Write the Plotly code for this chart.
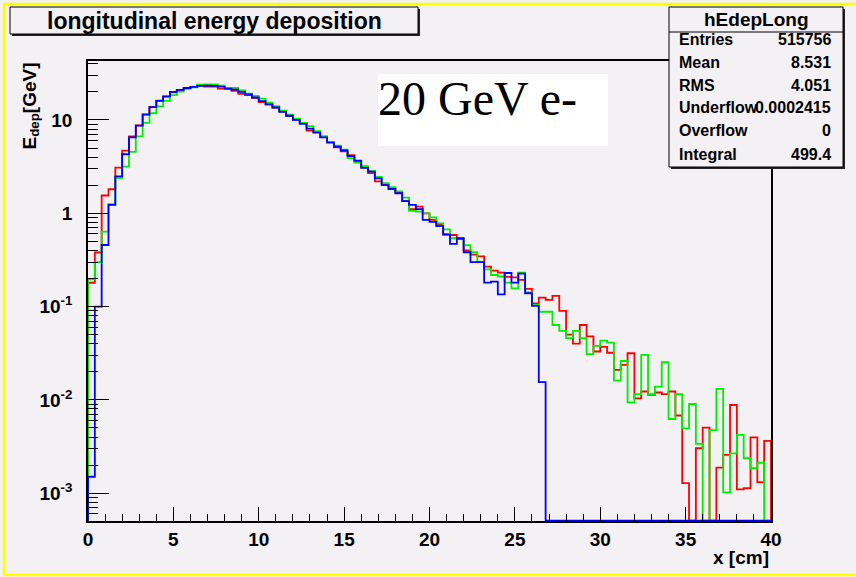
import numpy as np
import plotly.graph_objects as go

# ---------------- data (100 bins of 0.4 cm from 0 to 40 cm) ----------------
bin_width = 0.4
n_bins = 100

red_vals = [0.18, 0.38, 1.55, 1.81, 3.08, 4.69, 6.68, 8.77, 11.5, 13.8, 16.1, 17.8, 19.8, 21.0, 21.9, 22.6, 23.3, 22.8, 22.8, 21.7, 21.5, 20.5, 19.1, 18.5, 17.3, 15.5, 14.7, 13.6,
            12.4, 11.0, 10.1, 9.3, 7.7, 7.4, 6.6, 5.8, 5.1, 4.6, 4.2, 3.6, 3.1, 2.7, 2.2, 2.05, 1.85, 1.68,
            1.35, 1.11, 1.18, 1.0, 0.848, 0.75, 0.596, 0.585, 0.53, 0.40, 0.36, 0.345, 0.268, 0.243, 0.231, 0.208, 0.206, 0.193, 0.155, 0.108,
            0.125, 0.118, 0.13, 0.090, 0.050, 0.040, 0.0635, 0.048, 0.033, 0.037, 0.032, 0.021, 0.0237, 0.0316, 0.0104, 0.0123, 0.0113, 0.012, 0.0115, 0.0123,
            0.0068, 0.00128, 0, 0.00303, 0.00504, 0, 0.00188, 0.00257, 0.00881, 0.0011, 0.00113, 0.00397, 0.00131, 0.00363]

green_vals = [0.196, 0.30, 0.635, 1.25, 2.39, 3.16, 4.54, 6.68, 9.3, 11.8, 14.0, 16.0, 18.5, 20.1, 21.5, 22.4, 23.9, 24.1, 24.1, 23.3, 22.0, 22.0, 20.8, 19.1, 18.1, 16.9, 15.3, 14.1,
              12.6, 11.4, 10.3, 9.3, 8.6, 7.6, 6.7, 5.8, 5.3, 4.8, 3.9, 3.5, 3.2, 2.85, 2.45, 2.1, 1.9, 1.72,
              1.47, 1.06, 1.04, 1.0, 0.906, 0.78, 0.673, 0.54, 0.54, 0.454, 0.382, 0.30, 0.251, 0.218, 0.21, 0.181, 0.157, 0.231, 0.142, 0.104,
              0.088, 0.088, 0.0635, 0.055, 0.046, 0.055, 0.046, 0.031, 0.038, 0.0431, 0.0411, 0.0161, 0.0261, 0.00942, 0.0115, 0.0303, 0.0115, 0.0139, 0.0253, 0.00624,
              0.0115, 0.00496, 0.00904, 0.00337, 0, 0.00475, 0.0131, 0.00102, 0.00267, 0.00421, 0.00237, 0.00185, 0.00212, 0]

blue_vals = [0.0015, 0.1, 0.457, 1.23, 2.49, 4.29, 6.52, 8.69, 11.4, 13.7, 16.0, 17.9, 20.0, 21.0, 22.0, 22.6, 23.2, 23.3, 23.2, 22.8, 21.7, 21.1, 20.0, 18.8, 17.4, 15.9, 14.7, 13.6,
             12.2, 11.1, 10.0, 9.06, 8.07, 7.31, 6.52, 5.71, 5.17, 4.73, 4.11, 3.66, 3.06, 2.79, 2.37, 2.0, 1.82, 1.64,
             1.35, 1.23, 1.11, 0.85, 0.81, 0.73, 0.59, 0.469, 0.54, 0.382, 0.30, 0.30, 0.181, 0.185, 0.135, 0.229, 0.181, 0.226, 0.139, 0.102,
             0.0155] + [0] * 33

x_tick_vals = [0, 5, 10, 15, 20, 25, 30, 35, 40]
x_tick_text = ["0", "5", "10", "15", "20", "25", "30", "35", "40"]
y_tick_vals = [1e-3, 1e-2, 1e-1, 1, 10]
y_tick_text = ["10<sup>-3</sup>", "10<sup>-2</sup>", "10<sup>-1</sup>", "1", "10"]

stats_labels = ["Entries", "Mean", "RMS", "Underflow", "Overflow", "Integral"]
stats_values = ["515756", "8.531", "4.051", "0.0002415", "0", "499.4"]

# ---------------- layout geometry ----------------
W, H = 856, 577
L, R, T, B = 88, 85, 61, 56
PW, PH = W - L - R, H - T - B
BG = "#f4f1f5"
YR = [-3.298, 1.632]
FLOOR = 10 ** (YR[0] + 0.004)


def xp(px):
    return (px - L) / PW


def yp(py):
    return (H - B - py) / PH


edges = np.arange(n_bins) * bin_width


def step_xy(vals):
    v = np.array(vals, dtype=float)
    v = np.where(v > 0, v, FLOOR)
    xs = [0.0] + list(edges) + [n_bins * bin_width, n_bins * bin_width]
    ys = [FLOOR] + list(v) + [v[-1], FLOOR]
    return xs, ys


fig = go.Figure()
for vals, col in [(red_vals, "#ff0000"), (green_vals, "#00ee00"), (blue_vals, "#0000ff")]:
    xs, ys = step_xy(vals)
    fig.add_trace(go.Scatter(x=xs, y=ys, mode="lines", line=dict(color=col, width=1.8, shape="hv"),
                             showlegend=False, hoverinfo="skip"))

font_b = dict(family="Liberation Sans, Arial, sans-serif", color="black", weight="bold")

minor_y = []
for e in range(-4, 2):
    for k in range(2, 10):
        v = k * 10 ** e
        if YR[0] < np.log10(v) < YR[1]:
            minor_y.append(v)
minor_x = [i for i in range(1, 40) if i % 5 != 0]

fig.update_layout(
    width=W, height=H,
    margin=dict(l=L, r=R, t=T, b=B),
    paper_bgcolor=BG, plot_bgcolor=BG,
    xaxis=dict(range=[0, 40], tickmode="array", tickvals=x_tick_vals, ticktext=x_tick_text,
               ticks="inside", ticklen=14, tickwidth=1.3, tickcolor="black",
               minor=dict(tickmode="array", tickvals=minor_x, ticks="inside", ticklen=7, tickwidth=1.1, tickcolor="black"),
               showline=True, mirror=True, linecolor="black", linewidth=1.5,
               showgrid=False, zeroline=False, tickfont=dict(size=19, **font_b), ticklabelstandoff=0),
    yaxis=dict(type="log", range=YR, tickmode="array", tickvals=y_tick_vals, ticktext=y_tick_text,
               ticks="inside", ticklen=21, tickwidth=1.3, tickcolor="black",
               minor=dict(tickmode="array", tickvals=minor_y, ticks="inside", ticklen=10, tickwidth=1.1, tickcolor="black"),
               showline=True, mirror=True, linecolor="black", linewidth=1.5,
               showgrid=False, zeroline=False, tickfont=dict(size=19, **font_b), ticklabelstandoff=10),
)

shapes = []
annotations = []

# yellow canvas border
shapes.append(dict(type="rect", xref="paper", yref="paper", x0=xp(4), x1=xp(870), y0=yp(575), y1=yp(4),
                   line=dict(color="#ffff00", width=2.5), fillcolor="rgba(0,0,0,0)", layer="above"))

# title box with shadow
shapes.append(dict(type="rect", xref="paper", yref="paper", x0=xp(12), x1=xp(420), y0=yp(36), y1=yp(9),
                   line=dict(width=0), fillcolor="#222222", layer="above"))
shapes.append(dict(type="rect", xref="paper", yref="paper", x0=xp(10), x1=xp(418), y0=yp(34), y1=yp(7),
                   line=dict(color="black", width=1), fillcolor=BG, layer="above"))
annotations.append(dict(xref="paper", yref="paper", x=xp(214), y=yp(21), xanchor="center", yanchor="middle",
                        text="longitudinal energy deposition", showarrow=False,
                        font=dict(size=23, **font_b)))

# stats box with shadow
sx0, sx1, sy0, sy1 = 669, 843, 7, 167
shapes.append(dict(type="rect", xref="paper", yref="paper", x0=xp(sx0 + 2), x1=xp(sx1 + 2), y0=yp(sy1 + 2), y1=yp(sy0 + 2),
                   line=dict(width=0), fillcolor="#222222", layer="above"))
shapes.append(dict(type="rect", xref="paper", yref="paper", x0=xp(sx0), x1=xp(sx1), y0=yp(sy1), y1=yp(sy0),
                   line=dict(color="black", width=1), fillcolor=BG, layer="above"))
shapes.append(dict(type="line", xref="paper", yref="paper", x0=xp(sx0), x1=xp(sx1), y0=yp(32), y1=yp(32),
                   line=dict(color="black", width=1), layer="above"))
annotations.append(dict(xref="paper", yref="paper", x=xp(756), y=yp(19), xanchor="center", yanchor="middle",
                        text="hEdepLong", showarrow=False, font=dict(size=19, **font_b)))
row_y = [40, 62.7, 85, 107.3, 130.7, 154]
for lab, val, ry in zip(stats_labels, stats_values, row_y):
    annotations.append(dict(xref="paper", yref="paper", x=xp(677), y=yp(ry), xanchor="left", yanchor="middle",
                            text=lab, showarrow=False, font=dict(size=16, **font_b)))
    annotations.append(dict(xref="paper", yref="paper", x=xp(833), y=yp(ry), xanchor="right", yanchor="middle",
                            text=val, showarrow=False, font=dict(size=16, **font_b)))

# "20 GeV e-" white box
shapes.append(dict(type="rect", xref="paper", yref="paper", x0=xp(378), x1=xp(608), y0=yp(146), y1=yp(74),
                   line=dict(width=0), fillcolor="white", layer="above"))
annotations.append(dict(xref="paper", yref="paper", x=xp(376), y=yp(99), xanchor="left", yanchor="middle",
                        text="20 GeV e-", showarrow=False,
                        font=dict(family="Liberation Serif, Times New Roman, serif", size=48, color="black")))

# axis titles
annotations.append(dict(xref="paper", yref="paper", x=xp(771), y=yp(557), xanchor="right", yanchor="middle",
                        text="x [cm]", showarrow=False, font=dict(size=19, **font_b)))
annotations.append(dict(xref="paper", yref="paper", x=xp(30), y=yp(61), xanchor="center", yanchor="top",
                        text="E<sub>dep</sub>[GeV]", textangle=-90, showarrow=False, font=dict(size=19, **font_b)))

fig.update_layout(shapes=shapes, annotations=annotations)
fig.write_html("out.html", config={"displayModeBar": False},
               post_script="document.body.style.margin='0px';document.body.style.overflow='hidden';")
